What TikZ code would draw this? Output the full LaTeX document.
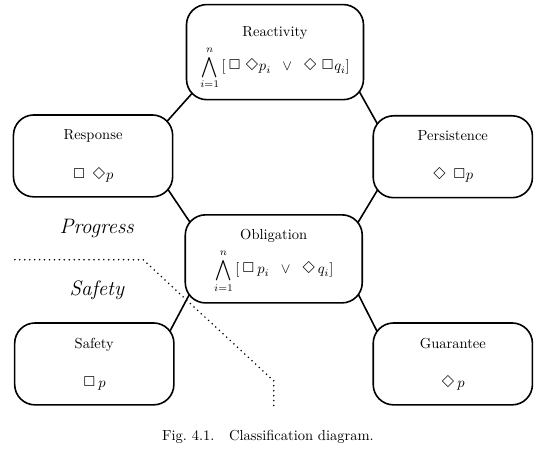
\documentclass[tikz,border=0pt]{standalone}
\usepackage{latexsym}
\usepackage{graphicx}
\usetikzlibrary{backgrounds}

\newcommand{\alw}{\mathord{\scalebox{1.2}{$\Box$}}}
\newcommand{\evt}{\mathord{\scalebox{1.2}{$\Diamond$}}}

\begin{document}
\begin{tikzpicture}[
  every node/.style={align=center},
  bigclass/.style={
    draw, rounded corners=14pt, fill=white, line width=1.1pt,
    minimum width=4.28cm, minimum height=#1, inner sep=2pt
  },
  sideclass/.style={
    draw, rounded corners=14pt, fill=white, line width=1.1pt,
    minimum width=3.85cm, minimum height=1.98cm, inner sep=2pt
  },
  regionlabel/.style={font=\Large\itshape},
  link/.style={line width=1.1pt, shorten <=-12pt, shorten >=-12pt},
  boundary/.style={line width=1.2pt, dash pattern=on 0pt off 3.4pt, line cap=round},
]

\useasboundingbox (0,0) rectangle (13.3,-11.07);

%% ============================================================
%% Top and centre classes
%% ============================================================
\node[bigclass=2.30cm] (react) at (6.65,-1.26)
  {\rule{0pt}{15pt}Reactivity\\[4pt]
   $\displaystyle\bigwedge_{i=1}^{n}\,[\,\alw\;\evt p_i\;\;\vee\;\;\evt\;\alw q_i]$};

\node[bigclass=2.13cm] (oblig) at (6.62,-6.26)
  {\rule{0pt}{10pt}Obligation\\[4pt]
   $\displaystyle\bigwedge_{i=1}^{n}\,[\,\alw\,p_i\;\;\vee\;\;\evt\,q_i]$};

%% ============================================================
%% Side classes
%% ============================================================
\node[sideclass] (resp) at (2.25,-3.77) {Response\\[15pt] $\alw\;\,\evt p$};
\node[sideclass] (pers) at (10.95,-3.79) {Persistence\\[15pt] $\evt\;\,\alw p$};
\node[sideclass] (safe) at (2.28,-8.80) {Safety\\[15pt] $\alw\,p$};
\node[sideclass] (guar) at (10.95,-8.80) {Guarantee\\[15pt] $\evt\,p$};

%% ============================================================
%% Regions
%% ============================================================
\node[regionlabel] (progress) at (2.34,-5.53) {Progress};
\node[regionlabel] (safety) at (2.34,-7.03) {Safety};

\coordinate (b1) at (0.36,-6.28);
\coordinate (b2) at (3.46,-6.28);
\coordinate (b3) at (6.62,-9.21);
\coordinate (b4) at (6.62,-9.84);

%% ============================================================
%% Caption
%% ============================================================
\node (caption) at (6.48,-10.56) {Fig.~4.1.\quad Classification diagram.};

%% ============================================================
%% Links and boundary
%% ============================================================
\begin{scope}[on background layer]
  \draw[link] (react.south west) -- (resp.north east);
  \draw[link] (react.south east) -- (pers.north west);
  \draw[link] (oblig.north west) -- (resp.south east);
  \draw[link] (oblig.north east) -- (pers.south west);
  \draw[link] (oblig.south west) -- (safe.north east);
  \draw[link] (oblig.south east) -- (guar.north west);
  \draw[boundary] (b1) -- (b2) -- (b3) -- (b4);
\end{scope}

\end{tikzpicture}
\end{document}
